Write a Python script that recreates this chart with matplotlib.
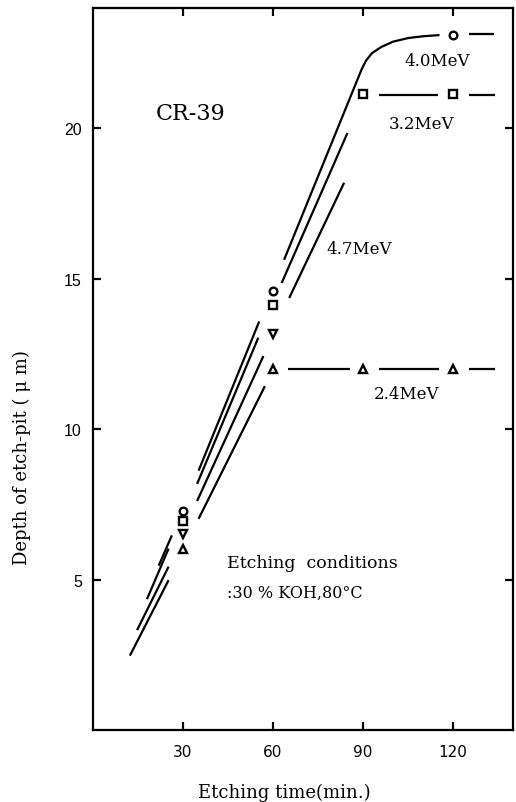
import matplotlib
matplotlib.use("Agg")
import matplotlib.pyplot as plt
import numpy as np

# ---- data ----
times = [30, 60, 90, 120]
depth_40 = [7.27, 14.6, 23.1]          # 4.0 MeV (circles) at 30, 60, 120
times_40 = [30, 60, 120]
depth_32 = [6.93, 14.12, 21.13, 21.13]  # 3.2 MeV (squares)
depth_47 = [6.52, 13.15]               # 4.7 MeV (down triangles) at 30, 60
times_47 = [30, 60]
depth_24 = [6.03, 12.0, 12.0, 12.0]     # 2.4 MeV (up triangles)

# fitted line segments (x pairs, y pairs)
fit_40_x = [[21.9, 26.3], [35.2, 55.4]]
fit_40_y = [[5.46, 6.47], [8.62, 13.58]]
curve_40_x = [63.7, 89.5, 91.0, 93.0, 96.0, 100.0, 105.0, 110.0, 115.5]
curve_40_y = [15.63, 21.95, 22.25, 22.5, 22.7, 22.88, 23.0, 23.06, 23.1]
tail_40_x = [[125.4, 133.8]]
tail_40_y = [[23.12, 23.12]]

fit_32_x = [[18.0, 25.2], [34.7, 55.1], [62.9, 84.8], [95.3, 115.0], [125.2, 134.1]]
fit_32_y = [[4.35, 6.03], [8.18, 13.04], [14.86, 19.84], [21.11, 21.11], [21.11, 21.11]]

fit_47_x = [[14.7, 25.2], [34.7, 56.8], [65.4, 83.7]]
fit_47_y = [[3.32, 5.43], [7.61, 12.43], [14.36, 18.19]]

fit_24_x = [[12.3, 25.2], [35.2, 57.3], [65.1, 85.6], [95.3, 115.3], [125.2, 134.1]]
fit_24_y = [[2.47, 4.98], [7.02, 11.43], [12.0, 12.0], [12.0, 12.0], [12.0, 12.0]]

x_ticks = [30, 60, 90, 120]
y_ticks = [5, 10, 15, 20]

# ---- figure ----
fig = plt.figure(figsize=(5.16, 8.03), dpi=100)
ax = fig.add_axes([0.1802, 0.0897, 0.8140, 0.8991])
ax.set_xlim(0, 140)
ax.set_ylim(0, 24)

lw = 1.6
kw = dict(color="black", lw=lw, solid_capstyle="butt")
for xs, ys in zip(fit_40_x + tail_40_x, fit_40_y + tail_40_y):
    ax.plot(xs, ys, **kw)
ax.plot(curve_40_x, curve_40_y, color="black", lw=lw, solid_capstyle="butt",
        solid_joinstyle="round")
for xs, ys in zip(fit_32_x, fit_32_y):
    ax.plot(xs, ys, **kw)
for xs, ys in zip(fit_47_x, fit_47_y):
    ax.plot(xs, ys, **kw)
for xs, ys in zip(fit_24_x, fit_24_y):
    ax.plot(xs, ys, **kw)

mk = dict(linestyle="none", markerfacecolor="white", markeredgecolor="black",
          markeredgewidth=1.7, markersize=5.5)
ax.plot(times_40, depth_40, marker="o", **mk)
ax.plot(times, depth_32, marker="s", **mk)
ax.plot(times_47, depth_47, marker="v", **mk)
ax.plot(times, depth_24, marker="^", **mk)

serif = "DejaVu Serif"
ax.text(32.4, 20.5, "CR-39", fontsize=16, family=serif, ha="center", va="center")
ax.text(114.6, 22.25, "4.0MeV", fontsize=12, family=serif, ha="center", va="center")
ax.text(109.5, 20.15, "3.2MeV", fontsize=12, family=serif, ha="center", va="center")
ax.text(88.8, 16.02, "4.7MeV", fontsize=12, family=serif, ha="center", va="center")
ax.text(104.5, 11.19, "2.4MeV", fontsize=12, family=serif, ha="center", va="center")
ax.text(44.6, 5.58, "Etching  conditions", fontsize=12.5, family=serif, ha="left", va="center")
ax.text(44.6, 4.57, ":30 % KOH,80°C", fontsize=11.5, family=serif, ha="left", va="center")

ax.set_xticks(x_ticks)
ax.set_yticks(y_ticks)
ax.set_xticklabels([str(t) for t in x_ticks], fontsize=11, family="DejaVu Sans")
ax.set_yticklabels([str(t) for t in y_ticks], fontsize=11.5, family="Liberation Sans")
ax.tick_params(axis="both", direction="in", length=6, width=1.6,
               top=True, right=True)
ax.tick_params(axis="x", pad=10)
ax.tick_params(axis="y", pad=8)
for s in ax.spines.values():
    s.set_linewidth(1.6)

fig.text(284 / 516, 10 / 803, "Etching time(min.)", fontsize=13, family=serif,
         ha="center", va="center")
fig.text(21.7 / 516, (803 - 458) / 803, "Depth of etch-pit ( μ m)", fontsize=13,
         family=serif, rotation=90, ha="center", va="center")

fig.savefig("out.png", dpi=100)
